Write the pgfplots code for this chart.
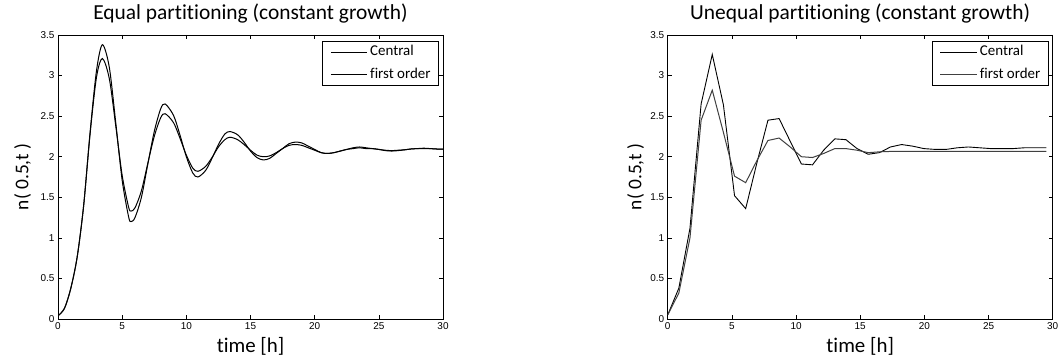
\documentclass[border=0pt]{standalone}
\usepackage{fontspec}
\setmainfont{Carlito}[Ligatures=NoCommon]
\newfontfamily\arialf{Liberation Sans}
\usepackage{pgfplots}
\usepackage{pgfplotstable}
\pgfplotsset{compat=1.18}

\pgfplotstableread{
t A B
0 0.04 0.04
0.5 0.13 0.13
1.0 0.38 0.38
1.5 0.77 0.77
2.0 1.40 1.40
2.5 2.30 2.28
3.0 3.06 2.98
3.46 3.38 3.21
4.0 3.10 2.96
4.5 2.42 2.38
5.0 1.71 1.77
5.5 1.26 1.38
5.69 1.20 1.33
6.0 1.25 1.37
6.5 1.50 1.58
7.0 1.91 1.92
7.5 2.31 2.25
8.0 2.59 2.48
8.35 2.65 2.53
9.0 2.51 2.42
9.5 2.27 2.23
10 2.00 2.02
10.5 1.80 1.86
10.9 1.75 1.82
11.5 1.83 1.88
12 1.98 1.99
12.5 2.15 2.12
13 2.28 2.21
13.4 2.31 2.24
14 2.27 2.21
14.5 2.18 2.15
15 2.07 2.08
15.5 1.99 2.02
16 1.96 2.00
16.5 1.98 2.01
17 2.04 2.05
17.5 2.10 2.10
18 2.16 2.14
18.5 2.18 2.15
19 2.17 2.14
19.5 2.13 2.11
20 2.09 2.08
20.5 2.05 2.05
21 2.04 2.04
21.5 2.05 2.05
22 2.07 2.07
22.5 2.09 2.09
23 2.11 2.10
23.5 2.12 2.11
24 2.11 2.10
24.5 2.10 2.10
25 2.09 2.09
25.5 2.075 2.08
26 2.07 2.075
26.5 2.075 2.08
27 2.085 2.085
27.5 2.095 2.095
28 2.10 2.10
28.5 2.105 2.10
29 2.10 2.10
29.5 2.095 2.095
30 2.095 2.095
}\equaldata

\pgfplotstableread{
t A B
0 0.05 0.05
0.868 0.38 0.32
1.736 1.12 1.00
2.604 2.65 2.45
3.472 3.26 2.82
4.34 2.64 2.30
5.208 1.52 1.76
6.076 1.36 1.68
6.944 1.92 1.95
7.812 2.45 2.20
8.68 2.47 2.23
9.548 2.19 2.12
10.416 1.91 2.00
11.284 1.90 1.99
12.152 2.08 2.04
13.02 2.22 2.10
13.888 2.21 2.10
14.756 2.10 2.08
15.624 2.03 2.05
16.492 2.05 2.06
17.36 2.12 2.065
18.228 2.15 2.065
19.096 2.13 2.065
19.964 2.10 2.065
20.832 2.09 2.065
21.7 2.09 2.065
22.568 2.11 2.065
23.436 2.12 2.065
24.304 2.11 2.065
25.172 2.10 2.065
26.04 2.10 2.065
26.908 2.10 2.065
27.776 2.11 2.065
28.644 2.11 2.065
29.512 2.11 2.065
}\unequaldata

\pgfplotsset{
  mystyle/.style={
    scale only axis, width=385bp, height=284bp,
    xmin=0, xmax=30, ymin=0, ymax=3.5,
    xtick={0,5,10,15,20,25,30},
    ytick={0,0.5,1,1.5,2,2.5,3,3.5},
    tick align=inside, tick pos=both,
    major tick length=4bp,
    axis line style={line width=0.8bp},
    every tick/.style={black, line width=0.6bp},
    tick label style={font=\fontsize{10}{12}\selectfont\arialf},
    /pgf/number format/assume math mode=true,
    title style={font=\fontsize{21.5}{24}\selectfont, at={(0.5,1.0327)}, anchor=base},
    xlabel style={font=\fontsize{21}{24}\selectfont, at={(0.5,-0.1162)}, anchor=base},
    ylabel style={font=\fontsize{19.5}{22}\selectfont, anchor=base},
    xlabel={time [h]}, ylabel={n( 0.5,t )},
    legend style={at={(0.9896,0.9789)}, anchor=north east,
      font=\fontsize{15}{17}\selectfont, draw=black, line width=0.8bp,
      inner xsep=8bp, inner ysep=3.7bp, row sep=8.6bp,
      nodes={inner sep=0pt, text height=10.5bp, text depth=3.5bp},
      /tikz/every odd column/.append style={column sep=2.4bp}},
    legend cell align=left,
    legend image code/.code={\draw[##1, line width=0.9bp] (0bp,0bp) -- (36.6bp,0bp);},
  }
}

\begin{document}
\begin{tikzpicture}
\path[use as bounding box] (0,0) rectangle (1060bp,359bp);
\begin{axis}[mystyle, at={(58bp,40bp)}, anchor=south west,
  ylabel style={at={(-0.0771,0.5)}},
  title={Equal partitioning (constant growth)}]
\addplot[black, line width=1bp, smooth] table[x=t, y=A] {\equaldata};
\addlegendentry{Central}
\addplot[black, line width=1bp, smooth] table[x=t, y=B] {\equaldata};
\addlegendentry{first order}
\end{axis}
\begin{axis}[mystyle, at={(667.7bp,40bp)}, anchor=south west,
  ylabel style={at={(-0.0685,0.5)}},
  title={Unequal partitioning (constant growth)}]
\addplot[black, line width=0.9bp] table[x=t, y=A] {\unequaldata};
\addlegendentry{Central}
\addplot[black!75, line width=1bp] table[x=t, y=B] {\unequaldata};
\addlegendentry{first order}
\end{axis}
\end{tikzpicture}
\end{document}
